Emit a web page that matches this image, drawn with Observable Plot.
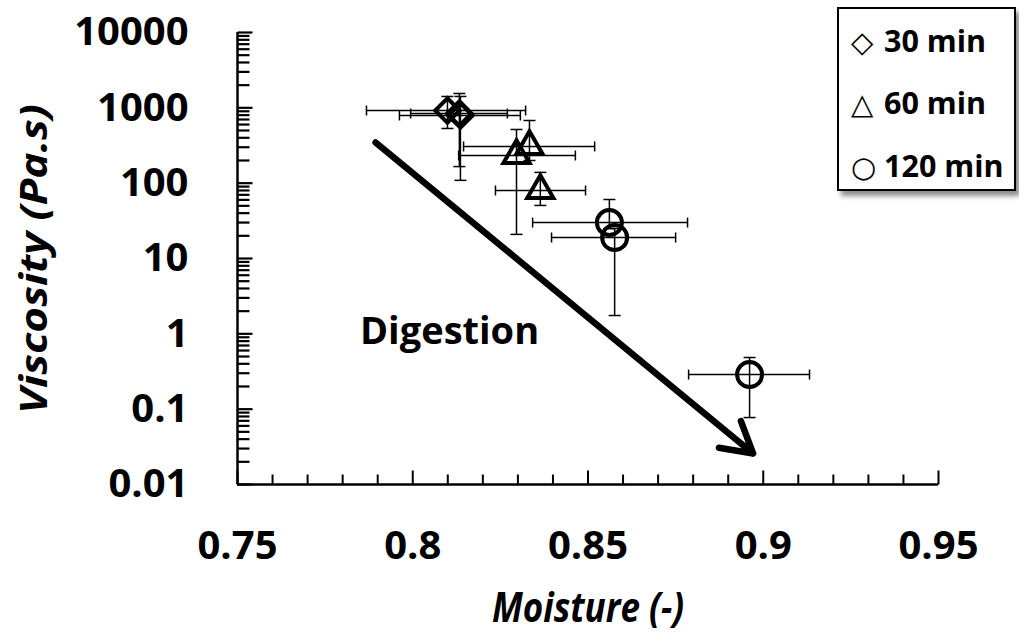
<!DOCTYPE html>
<html>
<head>
<meta charset="utf-8">
<script src="https://cdn.jsdelivr.net/npm/d3@7"></script>
<script src="https://cdn.jsdelivr.net/npm/@observablehq/plot@0.6"></script>
<style>
  body { margin: 0; background: #fff; }
  #wrap { position: relative; width: 1019px; height: 640px; overflow: hidden; }
  #legend { position: absolute; left: 837px; top: 7px; width: 179px; height: 184px; box-sizing: border-box;
            border: 2px solid #000; background: #fff; box-shadow: 4px 5px 5px rgba(0,0,0,0.45);
            font-family: "Open Sans", sans-serif; font-weight: bold; font-size: 30.5px; color: #000; }
  .item { position: absolute; left: 12px; height: 40px; line-height: 40px; white-space: nowrap; }
  .sym { display: inline-block; width: 33px; font-family: "DejaVu Sans"; font-weight: bold; font-size: 29px; text-align: left; }
  .title { position: absolute; white-space: nowrap; font-family: "Open Sans", sans-serif; font-weight: bold;
           font-style: italic; line-height: 1; color: #000; }
  #ytitle { left: 32px; top: 259px; font-size: 38px; transform: translate(-50%, -50%) rotate(-90deg) scaleX(1.16); }
  #xtitle { left: 588px; top: 606px; font-size: 35px; transform: translate(-50%, -50%) scaleY(1.2); }
</style>
</head>
<body>
<div id="wrap">
  <div id="chart"></div>
  <div id="ytitle" class="title"></div>
  <div id="xtitle" class="title"></div>
  <div id="legend"></div>
</div>
<script>
// ---- data ----
const groups = ["30 min", "60 min", "120 min"];
const legendGlyphs = ["\u25C7", "\u25B3", "\u25CB"];

const group        = ["30 min", "30 min", "30 min", "60 min", "60 min", "60 min", "120 min", "120 min", "120 min"];
const moisture     = [0.8099, 0.8133, 0.8136, 0.8296, 0.8333, 0.8364, 0.8561, 0.8576, 0.8961];
const viscosity    = [922, 841, 791, 233, 307, 80, 30, 19, 0.288];
const moistureLow  = [0.7868, 0.7994, 0.7962, 0.8131, 0.8145, 0.8236, 0.8342, 0.8396, 0.8787];
const moistureHigh = [0.8322, 0.8270, 0.8307, 0.8464, 0.8519, 0.8493, 0.8784, 0.8750, 0.9132];
const viscosityLow = [532, 166, 109, 20.9, 200, 50.6, 25, 1.75, 0.0774];
const viscosityHigh= [1416, 1550, 1416, 516, 679, 139, 60.7, 25, 0.485];

const xMajorTicks = [0.75, 0.8, 0.85, 0.9, 0.95];
const yMajorTicks = [0.01, 0.1, 1, 10, 100, 1000, 10000];
const xTitle = "Moisture (-)";
const yTitle = "Viscosity (Pa.s)";
const annotation = [{text: "Digestion", moisture: 0.8105, viscosity: 1.05}];
const arrow = [{m1: 0.7894, v1: 347, m2: 0.8971, v2: 0.0258}];

// minor ticks
const xMinorTicks = d3.range(0, 21).map(i => +(0.75 + i * 0.01).toFixed(2)).filter(v => !xMajorTicks.includes(v));
const yMinorTicks = [];
for (let k = -2; k <= 3; k++) for (let m = 2; m <= 9; m++) yMinorTicks.push(+(m * Math.pow(10, k)).toPrecision(3));

const rows = moisture.map((m, i) => ({
  group: group[i], moisture: m, viscosity: viscosity[i],
  mLow: moistureLow[i], mHigh: moistureHigh[i], vLow: viscosityLow[i], vHigh: viscosityHigh[i]
}));

// custom symbols (line segments of length r)
const len = s => Math.sqrt(s / Math.PI);
const tickUp    = {draw(c, s) { const L = len(s); c.moveTo(0, 0); c.lineTo(0, -L); }};
const tickRight = {draw(c, s) { const L = len(s); c.moveTo(0, 0); c.lineTo(L, 0); }};
const hCap      = {draw(c, s) { const L = len(s); c.moveTo(-L, 0); c.lineTo(L, 0); }};
const vCap      = {draw(c, s) { const L = len(s); c.moveTo(0, -L); c.lineTo(0, L); }};

const font = "Open Sans";
const bySym = {"30 min": "diamond2", "60 min": "triangle2", "120 min": "circle"};
const byR = {"30 min": 11, "60 min": 12.5, "120 min": 12.5};

const chart = Plot.plot({
  width: 1019,
  height: 640,
  marginLeft: 237,
  marginRight: 81,
  marginTop: 32,
  marginBottom: 156,
  style: {fontFamily: font, overflow: "visible", background: "white"},
  x: {domain: [0.75, 0.95]},
  y: {type: "log", domain: [0.01, 10000]},
  marks: [
    // tick marks (inside)
    Plot.dot(xMinorTicks, {x: d => d, y: () => 0.01, symbol: tickUp, r: 10, stroke: "black", strokeWidth: 2, fill: "none"}),
    Plot.dot(xMajorTicks, {x: d => d, y: () => 0.01, symbol: tickUp, r: 14, stroke: "black", strokeWidth: 2, fill: "none"}),
    Plot.dot(yMinorTicks, {x: () => 0.75, y: d => d, symbol: tickRight, r: 12, stroke: "black", strokeWidth: 2.2, fill: "none"}),
    Plot.dot(yMajorTicks, {x: () => 0.75, y: d => d, symbol: tickRight, r: 15, stroke: "black", strokeWidth: 2.2, fill: "none"}),
    // axis lines
    Plot.ruleX([0.75], {stroke: "black", strokeWidth: 2.5}),
    Plot.ruleY([0.01], {stroke: "black", strokeWidth: 2.5}),
    // tick labels
    Plot.axisX({ticks: xMajorTicks, tickSize: 0, tickPadding: 46, tickFormat: d => String(d), label: null,
                fontSize: 40, fontWeight: "bold", fontFamily: font}),
    Plot.axisY({ticks: yMajorTicks, tickSize: 0, tickPadding: 49, tickFormat: d => String(d), label: null,
                fontSize: 40, fontWeight: "bold", fontFamily: font}),
    // arrow + annotation
    Plot.arrow(arrow, {x1: "m1", y1: "v1", x2: "m2", y2: "v2", stroke: "black", strokeWidth: 6.5, strokeLinejoin: "round"}),
    Plot.text(annotation, {x: "moisture", y: "viscosity", text: "text", fontSize: 38, fontWeight: "bold", fontFamily: font}),
    // error bars
    Plot.link(rows, {x1: "mLow", x2: "mHigh", y1: "viscosity", y2: "viscosity", stroke: "black", strokeWidth: 1.5}),
    Plot.link(rows, {x1: "moisture", x2: "moisture", y1: "vLow", y2: "vHigh", stroke: "black", strokeWidth: 1.5}),
    Plot.dot(rows, {x: "mLow", y: "viscosity", symbol: vCap, r: 5, stroke: "black", strokeWidth: 1.5, fill: "none"}),
    Plot.dot(rows, {x: "mHigh", y: "viscosity", symbol: vCap, r: 5, stroke: "black", strokeWidth: 1.5, fill: "none"}),
    Plot.dot(rows, {x: "moisture", y: "vLow", symbol: hCap, r: 6, stroke: "black", strokeWidth: 1.5, fill: "none"}),
    Plot.dot(rows, {x: "moisture", y: "vHigh", symbol: hCap, r: 6, stroke: "black", strokeWidth: 1.5, fill: "none"}),
    // markers
    ...groups.map(g => Plot.dot(rows.filter(d => d.group === g), {
      x: "moisture", y: "viscosity", symbol: bySym[g], r: byR[g], stroke: "black", strokeWidth: 4, fill: "none"
    }))
  ]
});
document.getElementById("chart").appendChild(chart);
document.getElementById("ytitle").textContent = yTitle;
document.getElementById("xtitle").textContent = xTitle;

// legend
const legend = document.getElementById("legend");
const tops = [11, 73, 136];
groups.forEach((g, i) => {
  const item = document.createElement("div");
  item.className = "item";
  item.style.top = tops[i] + "px";
  item.innerHTML = `<span class="sym">${legendGlyphs[i]}</span>${g}`;
  legend.appendChild(item);
});
</script>
</body>
</html>
